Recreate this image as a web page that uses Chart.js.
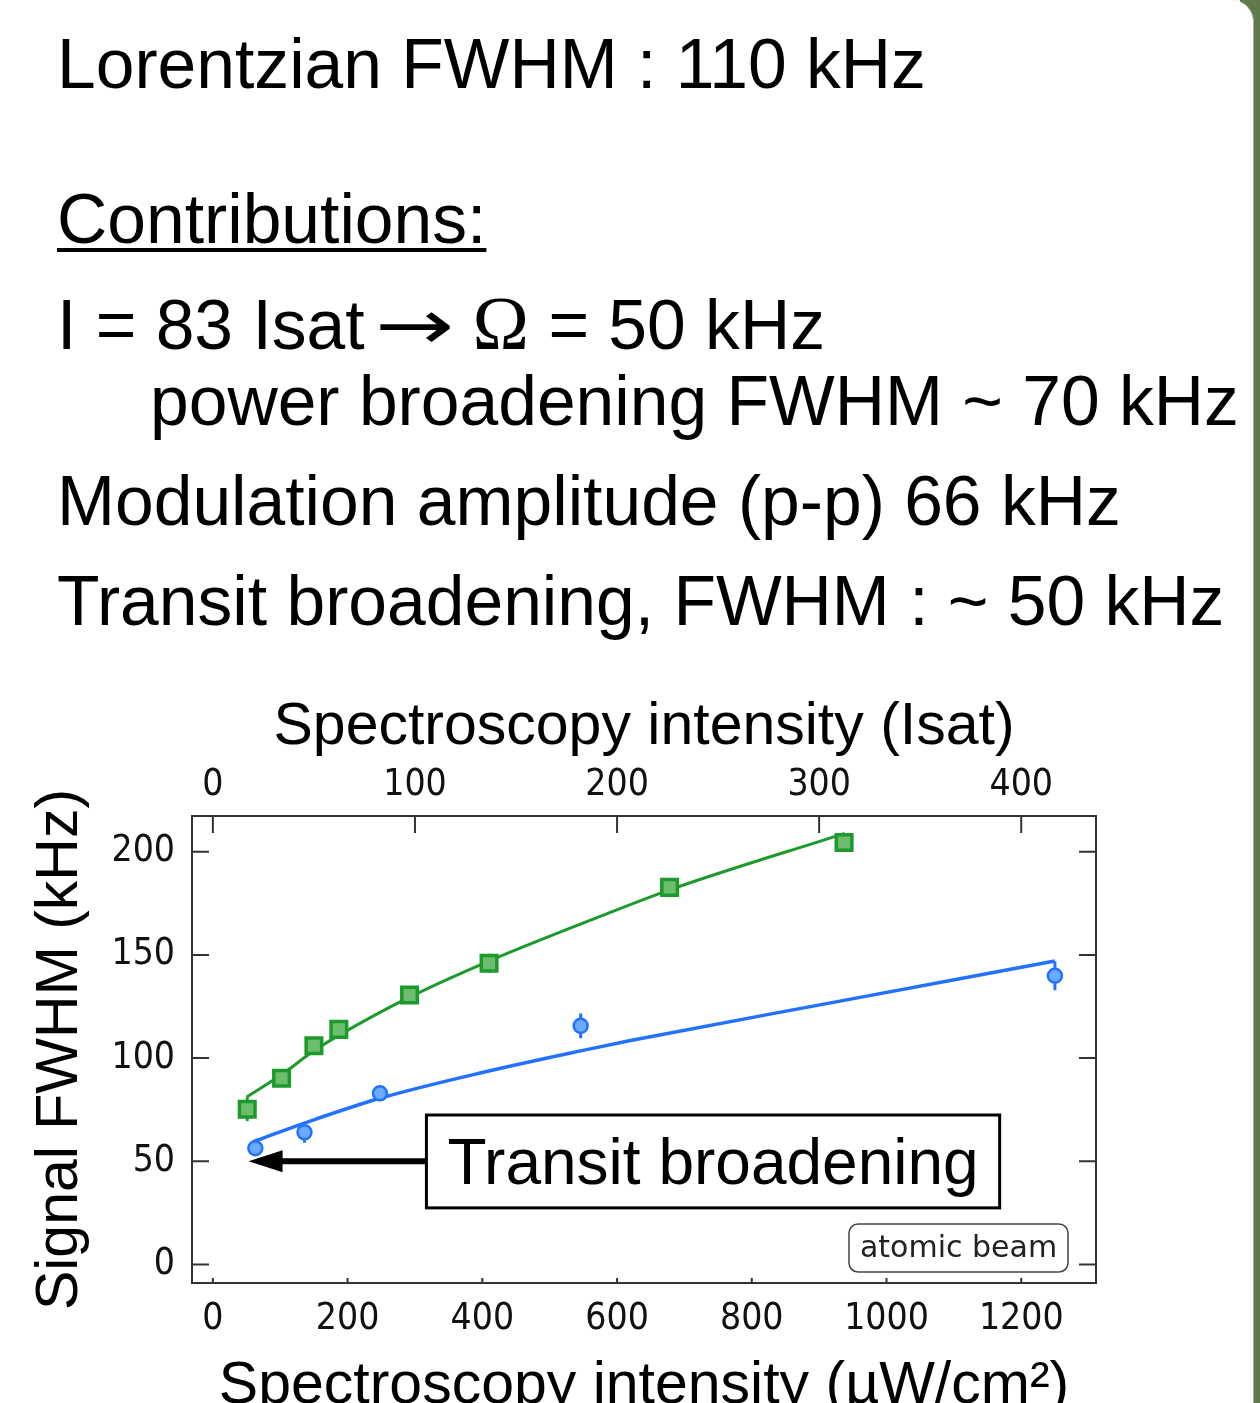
<!DOCTYPE html>
<html>
<head>
<meta charset="utf-8">
<script src="https://cdn.jsdelivr.net/npm/chart.js@4.4.1/dist/chart.umd.min.js"></script>
<style>
  html, body { margin: 0; padding: 0; width: 1260px; height: 1403px; overflow: hidden; background: #fff; }
  .frame { position: absolute; left: 1240px; top: 0; width: 20px; height: 1403px; background: #617a4a; }
  .page { position: absolute; left: 0; top: 0; width: 1253px; height: 1403px; background: #fff;
          border-right: 1px solid #a8a8a8; border-top-right-radius: 22px; }
  .line { position: absolute; font-family: "Liberation Sans", Arial, sans-serif; font-size: 69.6px;
          line-height: 69px; color: #000; white-space: nowrap; z-index: 2; }
  .sym { font-family: "Liberation Serif", "DejaVu Serif", serif; font-size: 76px; margin-left: 18px; }
  .arr { display: inline-block; font-family: "DejaVu Sans", sans-serif; width: 80px; margin-left: 10px;
         transform: scaleX(1.36); transform-origin: 0 0; }
  .ul { text-decoration: underline; text-decoration-thickness: 4px; text-underline-offset: 5px; }
  #chartBox { position: absolute; left: 0; top: 680px; width: 1260px; height: 746px; z-index: 2; }
</style>
</head>
<body>
<div class="frame"></div>
<div class="page"></div>

<div class="line" style="left:57px; top:30px;">Lorentzian FWHM : 110 kHz</div>
<div class="line ul" style="left:57px; top:185px;">Contributions:</div>
<div class="line" style="left:57px; top:289px;">I = 83 Isat<span class="arr">→</span><span class="sym">Ω</span> = 50 kHz</div>
<div class="line" style="left:150px; top:367px;">power broadening FWHM ~ 70 kHz</div>
<div class="line" style="left:57px; top:467px;">Modulation amplitude (p-p) 66 kHz</div>
<div class="line" style="left:57px; top:567px;">Transit broadening, FWHM : ~ 50 kHz</div>

<div id="chartBox"><canvas id="fwhmChart" width="1260" height="746"></canvas></div>

<script>
// measured linewidths, green squares and blue circles (µW/cm², kHz)
const greenIntensity = [51, 102, 150, 187, 292, 410, 678, 937];
const greenWidth     = [75.2, 90.2, 106.0, 113.9, 130.6, 145.9, 182.7, 204.5];
const greenErr       = [5.7, 2, 2, 2, 2, 4.6, 2, 4.2];

const blueIntensity = [63, 136, 248, 546, 1250];
const blueWidth     = [56.3, 64.0, 82.9, 115.6, 139.9];
const blueErr       = [3.5, 5, 2, 6, 7];

// fitted curves
const greenFitX = [50, 102, 150, 187, 292, 410, 574, 678, 938];
const greenFitY = [81, 92, 103.5, 111, 129.5, 147, 168.5, 181.5, 208.9];
const blueFitX  = [60, 136, 248, 400, 546, 620, 921, 1250];
const blueFitY  = [59.5, 68.5, 80.5, 93, 103.5, 108.5, 127, 147];

// axes
const intensityTicks = [0, 200, 400, 600, 800, 1000, 1200];
const isatTicks      = [0, 100, 200, 300, 400];
const widthTicks     = [0, 50, 100, 150, 200];
const UW_PER_ISAT = 3;
const X_MIN = -31, X_MAX = 1311;
const Y_MIN = -9, Y_MAX = 217.3;

const GREEN = '#1c9a2b';
const BLUE = '#2272ff';

const toXY = (xs, ys) => xs.map((x, i) => ({ x: x, y: ys[i] }));
const setTicks = vals => scale => { scale.ticks = vals.map(v => ({ value: v })); };
const fixSize = (key, px) => scale => { scale[key] = px; };
const plain = v => String(v);

const tickFont = { family: '"DejaVu Sans Condensed", "DejaVu Sans"', size: 37 };
const titleFont = { family: 'Liberation Sans', size: 59 };

// short marks pointing into the plot on all four sides
const inwardTicks = {
    id: 'inwardTicks',
    afterDatasetsDraw(chart) {
        const { ctx, chartArea: a, scales } = chart;
        ctx.save();
        ctx.strokeStyle = '#333';
        ctx.lineWidth = 2;
        ctx.beginPath();
        scales.x.ticks.forEach(t => {
            const p = scales.x.getPixelForValue(t.value);
            ctx.moveTo(p, a.bottom); ctx.lineTo(p, a.bottom - 5);
        });
        scales.x2.ticks.forEach(t => {
            const p = scales.x2.getPixelForValue(t.value);
            ctx.moveTo(p, a.top); ctx.lineTo(p, a.top + 17);
        });
        scales.y.ticks.forEach(t => {
            const p = scales.y.getPixelForValue(t.value);
            ctx.moveTo(a.left, p); ctx.lineTo(a.left + 17, p);
        });
        scales.y2.ticks.forEach(t => {
            const p = scales.y2.getPixelForValue(t.value);
            ctx.moveTo(a.right, p); ctx.lineTo(a.right - 17, p);
        });
        ctx.stroke();
        ctx.restore();
    }
};

// vertical error bars behind the markers
const errorBars = {
    id: 'errorBars',
    beforeDatasetDraw(chart, args) {
        const ds = chart.data.datasets[args.index];
        if (!ds.errors) return;
        const y = chart.scales.y;
        const ctx = chart.ctx;
        ctx.save();
        ctx.strokeStyle = ds.borderColor;
        ctx.lineWidth = 3;
        ctx.beginPath();
        args.meta.data.forEach((pt, i) => {
            const v = ds.data[i].y, e = ds.errors[i];
            ctx.moveTo(pt.x, y.getPixelForValue(v + e));
            ctx.lineTo(pt.x, y.getPixelForValue(v - e));
        });
        ctx.stroke();
        ctx.restore();
    }
};

// "Transit broadening" call-out with arrow, and the small "atomic beam" tag
const callouts = {
    id: 'callouts',
    afterDraw(chart) {
        const { ctx, chartArea: a, scales: { x, y } } = chart;
        ctx.save();

        const bx0 = x.getPixelForValue(317), bx1 = x.getPixelForValue(1168);
        const by0 = y.getPixelForValue(72.4), by1 = y.getPixelForValue(27.4);
        const ay = y.getPixelForValue(50), tip = x.getPixelForValue(53);

        ctx.fillStyle = '#000';
        ctx.fillRect(tip + 30, ay - 3, bx0 - tip - 30, 6);
        ctx.beginPath();
        ctx.moveTo(tip, ay);
        ctx.lineTo(tip + 34, ay - 11);
        ctx.lineTo(tip + 34, ay + 11);
        ctx.closePath();
        ctx.fill();

        ctx.fillStyle = '#fff';
        ctx.fillRect(bx0, by0, bx1 - bx0, by1 - by0);
        ctx.strokeStyle = '#000';
        ctx.lineWidth = 3;
        ctx.strokeRect(bx0, by0, bx1 - bx0, by1 - by0);
        ctx.fillStyle = '#000';
        ctx.font = '64px "Liberation Sans", Arial, sans-serif';
        ctx.textAlign = 'center';
        ctx.textBaseline = 'alphabetic';
        ctx.fillText('Transit broadening', (bx0 + bx1) / 2, (by0 + by1) / 2 + 23);

        const w = 219, h = 48;
        const tx = a.right - 28 - w, ty = a.bottom - 11 - h;
        ctx.beginPath();
        ctx.roundRect(tx, ty, w, h, 9);
        ctx.fillStyle = '#fff';
        ctx.fill();
        ctx.strokeStyle = '#444';
        ctx.lineWidth = 1.5;
        ctx.stroke();
        ctx.fillStyle = '#222';
        ctx.font = '30px "DejaVu Sans", sans-serif';
        ctx.textBaseline = 'middle';
        ctx.fillText('atomic beam', tx + w / 2, ty + h / 2 + 1);
        ctx.restore();
    }
};

const ctx = document.getElementById('fwhmChart').getContext('2d');
new Chart(ctx, {
    type: 'scatter',
    data: {
        datasets: [
            {
                data: toXY(greenIntensity, greenWidth),
                errors: greenErr,
                pointStyle: 'rect',
                pointRadius: 11,
                borderWidth: 3.5,
                borderColor: GREEN,
                backgroundColor: '#6cbd6c'
            },
            {
                data: toXY(blueIntensity, blueWidth),
                errors: blueErr,
                pointStyle: 'circle',
                pointRadius: 7,
                borderWidth: 2.5,
                borderColor: BLUE,
                backgroundColor: '#6aabff'
            },
            {
                data: toXY(greenFitX, greenFitY),
                showLine: true,
                pointRadius: 0,
                borderWidth: 3,
                borderColor: GREEN,
                cubicInterpolationMode: 'monotone'
            },
            {
                data: toXY(blueFitX, blueFitY),
                showLine: true,
                pointRadius: 0,
                borderWidth: 3.5,
                borderColor: BLUE,
                cubicInterpolationMode: 'monotone'
            }
        ]
    },
    options: {
        responsive: false,
        animation: false,
        devicePixelRatio: 1,
        layout: { padding: 0 },
        plugins: {
            legend: { display: false },
            tooltip: { enabled: false }
        },
        scales: {
            x: {
                type: 'linear',
                position: 'bottom',
                min: X_MIN,
                max: X_MAX,
                afterBuildTicks: setTicks(intensityTicks),
                afterFit: fixSize('height', 143),
                grid: { drawOnChartArea: false, drawTicks: false },
                border: { color: '#333', width: 2 },
                ticks: { font: tickFont, color: '#111', padding: 14, maxRotation: 0, callback: plain },
                title: {
                    display: true,
                    text: 'Spectroscopy intensity (µW/cm²)',
                    font: titleFont,
                    color: '#000',
                    padding: { bottom: 4 }
                }
            },
            x2: {
                type: 'linear',
                position: 'top',
                min: X_MIN / UW_PER_ISAT,
                max: X_MAX / UW_PER_ISAT,
                afterBuildTicks: setTicks(isatTicks),
                afterFit: fixSize('height', 136),
                grid: { drawOnChartArea: false, drawTicks: false },
                border: { color: '#333', width: 2 },
                ticks: { font: tickFont, color: '#111', padding: 8, maxRotation: 0, callback: plain },
                title: {
                    display: true,
                    text: 'Spectroscopy intensity (Isat)',
                    font: titleFont,
                    color: '#000',
                    padding: { top: 12 }
                }
            },
            y: {
                type: 'linear',
                position: 'left',
                min: Y_MIN,
                max: Y_MAX,
                afterBuildTicks: setTicks(widthTicks),
                afterFit: fixSize('width', 192),
                grid: { drawOnChartArea: false, drawTicks: false },
                border: { color: '#333', width: 2 },
                ticks: { font: tickFont, color: '#111', padding: 17, callback: plain },
                title: {
                    display: true,
                    text: 'Signal FWHM (kHz)',
                    font: titleFont,
                    color: '#000',
                    padding: { top: 25 }
                }
            },
            y2: {
                type: 'linear',
                position: 'right',
                min: Y_MIN,
                max: Y_MAX,
                afterBuildTicks: setTicks(widthTicks),
                afterFit: fixSize('width', 164),
                grid: { drawOnChartArea: false, drawTicks: false },
                border: { color: '#333', width: 2 },
                ticks: { display: false }
            }
        }
    },
    plugins: [errorBars, inwardTicks, callouts]
});
</script>
</body>
</html>
